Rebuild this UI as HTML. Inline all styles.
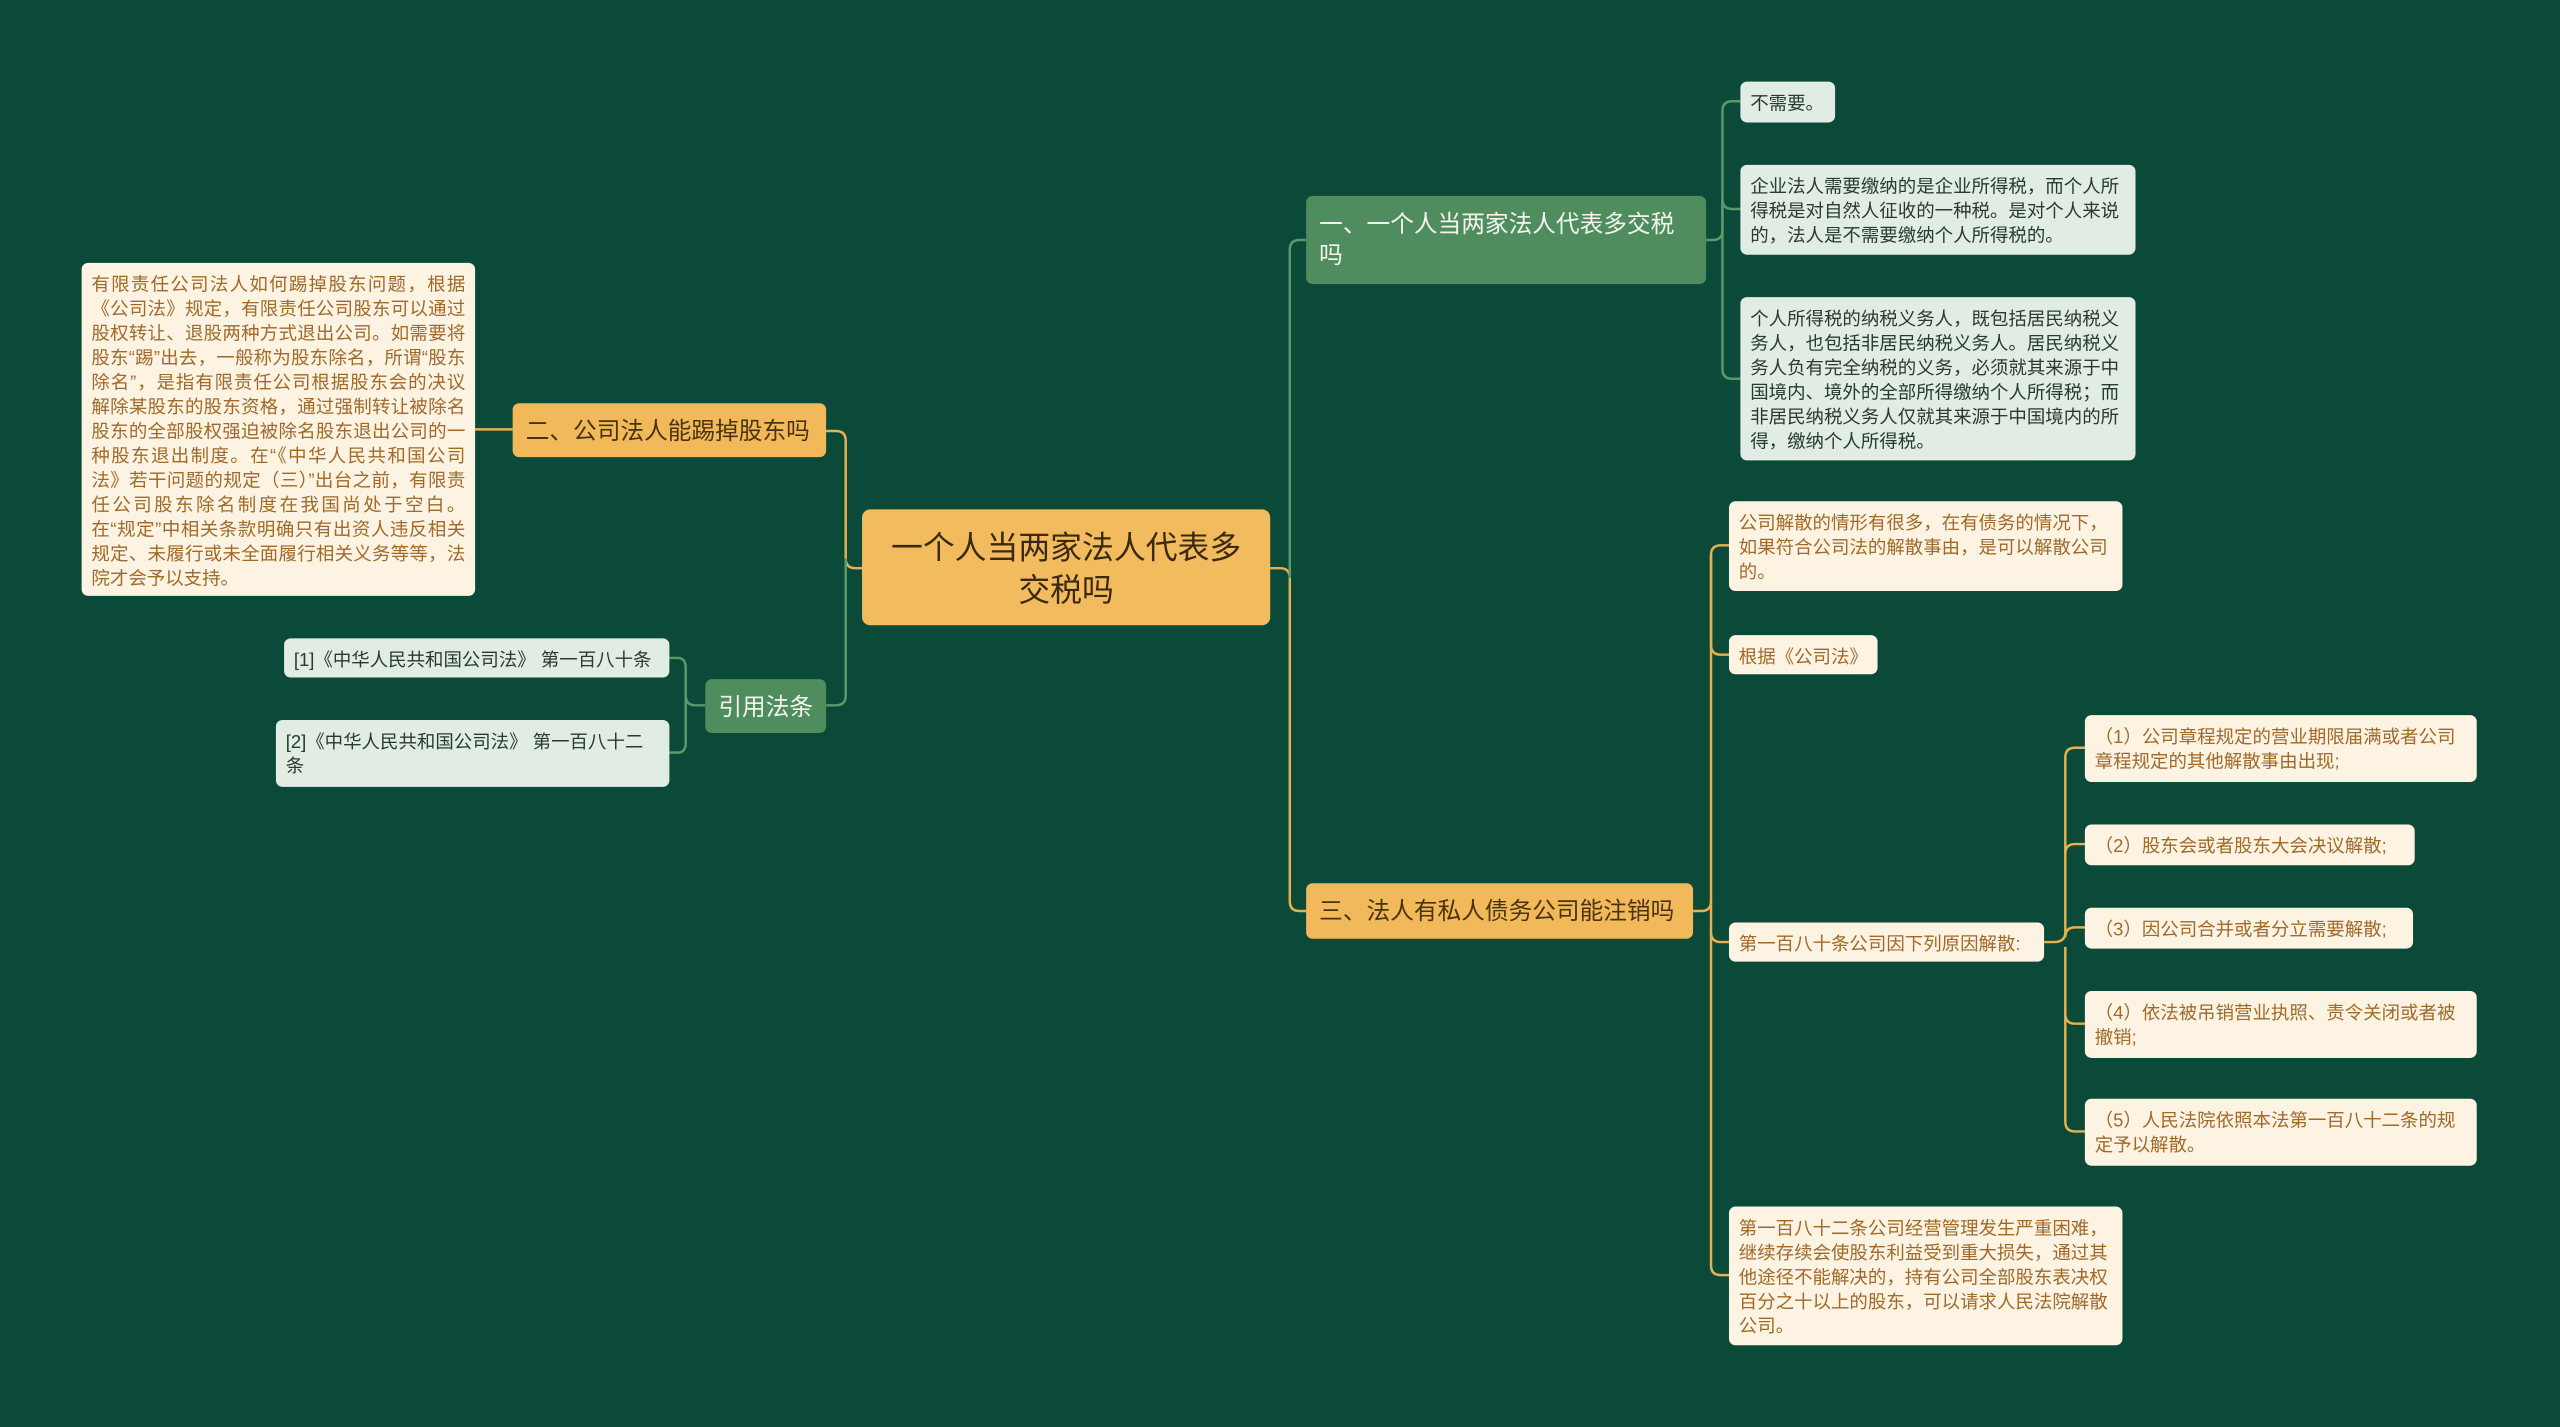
<!DOCTYPE html>
<html><head><meta charset="utf-8"><style>
html,body{margin:0;padding:0;background:#0b4a38;width:2560px;height:1427px;overflow:hidden}
#w{position:absolute;left:0;top:0;width:1568px;height:874px;transform:scale(1.63265);transform-origin:0 0;font-family:"Liberation Sans","Noto Sans CJK SC",sans-serif}
.n{position:absolute;box-sizing:border-box;border-radius:4px}
.c{background:#f2bb5e;color:#3a2a10;font-size:19.5px;line-height:26px;text-align:center;display:flex;align-items:center;justify-content:center;padding:2px 12px 0;border-radius:5px}
.bg{background:#4f8d5e;color:#f4f4ee;font-size:14.5px;line-height:19px;padding:9px 8px 5px}
.bo{background:#f1b95a;color:#4a3310;font-size:14.5px;line-height:19px;padding:9px 8px 5px}
.lg{background:#e1ece5;color:#2a3a30;font-size:11.3px;line-height:15px;padding:7px 6px 3px}
.lo{background:#fdf3e2;color:#a06a2a;font-size:11.3px;line-height:15px;padding:7px 6px 3px}
svg{position:absolute;left:0;top:0}
</style></head><body><div id="w">
<svg width="1568" height="874" fill="none" stroke-width="1.5">
<g stroke="#e8b04f">
<path d="M778 348 H784 Q790 348 790 354 V552 Q790 558 796 558 H800"/>
<path d="M528 348 H524 Q518 348 518 342 V270 Q518 264 512 264 H506"/>
<path d="M314 263 H291"/>
<path d="M1037 558 H1042 Q1048 558 1048 552 V340 Q1048 334 1054 334 H1059"/>
<path d="M1048 340 V395 Q1048 401 1054 401 H1059"/>
<path d="M1048 552 V571 Q1048 577 1054 577 H1059"/>
<path d="M1048 571 V775 Q1048 781 1054 781 H1059"/>
<path d="M1252 577 H1258 Q1265 577 1265 571 V464 Q1265 458 1271 458 H1277"/>
<path d="M1265 523 Q1265 517 1271 517 H1277"/>
<path d="M1265 574 Q1265 568 1271 568 H1277"/>
<path d="M1265 580 V621 Q1265 627 1271 627 H1277"/>
<path d="M1265 621 V687 Q1265 693 1271 693 H1277"/>
</g>
<g stroke="#5a9a6a">
<path d="M790 354 V153 Q790 147 796 147 H800"/>
<path d="M518 342 V426 Q518 432 512 432 H506"/>
<path d="M1045 147 H1049 Q1055 147 1055 141 V68 Q1055 62 1061 62 H1066"/>
<path d="M1055 141 V122 Q1055 128 1061 128 H1066"/>
<path d="M1055 141 V226 Q1055 232 1061 232 H1066"/>
<path d="M432 432 H426 Q420 432 420 426 V409 Q420 403 415 403 H410"/>
<path d="M420 426 V455 Q420 461 415 461 H410"/>
</g>
</svg>
<div class="n c" style="left:528px;top:312px;width:250px;height:71px">一个人当两家法人代表多交税吗</div>
<div class="n bg" style="left:800px;top:120px;width:245px;height:54px">一、一个人当两家法人代表多交税吗</div>
<div class="n bo" style="left:800px;top:541px;width:237px;height:34px;white-space:nowrap">三、法人有私人债务公司能注销吗</div>
<div class="n bo" style="left:314px;top:247px;width:192px;height:33px;white-space:nowrap">二、公司法人能踢掉股东吗</div>
<div class="n bg" style="left:432px;top:416px;width:74px;height:33px;white-space:nowrap">引用法条</div>
<div class="n lo" style="left:50px;top:161px;width:241px;height:204px;text-align:justify">有限责任公司法人如何踢掉股东问题，根据《公司法》规定，有限责任公司股东可以通过股权转让、退股两种方式退出公司。如需要将股东“踢”出去，一般称为股东除名，所谓“股东除名”，是指有限责任公司根据股东会的决议解除某股东的股东资格，通过强制转让被除名股东的全部股权强迫被除名股东退出公司的一种股东退出制度。在“《中华人民共和国公司法》若干问题的规定（三）”出台之前，有限责任公司股东除名制度在我国尚处于空白。在“规定”中相关条款明确只有出资人违反相关规定、未履行或未全面履行相关义务等等，法院才会予以支持。</div>
<div class="n lg" style="left:174px;top:391px;width:236px;height:24px;white-space:nowrap">[1]《中华人民共和国公司法》 第一百八十条</div>
<div class="n lg" style="left:169px;top:441px;width:241px;height:41px">[2]《中华人民共和国公司法》 第一百八十二条</div>
<div class="n lg" style="left:1066px;top:50px;width:58px;height:25px">不需要。</div>
<div class="n lg" style="left:1066px;top:101px;width:242px;height:55px">企业法人需要缴纳的是企业所得税，而个人所得税是对自然人征收的一种税。是对个人来说的，法人是不需要缴纳个人所得税的。</div>
<div class="n lg" style="left:1066px;top:182px;width:242px;height:100px">个人所得税的纳税义务人，既包括居民纳税义务人，也包括非居民纳税义务人。居民纳税义务人负有完全纳税的义务，必须就其来源于中国境内、境外的全部所得缴纳个人所得税；而非居民纳税义务人仅就其来源于中国境内的所得，缴纳个人所得税。</div>
<div class="n lo" style="left:1059px;top:307px;width:241px;height:55px">公司解散的情形有很多，在有债务的情况下，如果符合公司法的解散事由，是可以解散公司的。</div>
<div class="n lo" style="left:1059px;top:389px;width:91px;height:24px;white-space:nowrap">根据《公司法》</div>
<div class="n lo" style="left:1059px;top:565px;width:193px;height:24px;white-space:nowrap">第一百八十条公司因下列原因解散:</div>
<div class="n lo" style="left:1059px;top:739px;width:241px;height:85px">第一百八十二条公司经营管理发生严重困难，继续存续会使股东利益受到重大损失，通过其他途径不能解决的，持有公司全部股东表决权百分之十以上的股东，可以请求人民法院解散公司。</div>
<div class="n lo" style="left:1277px;top:438px;width:240px;height:41px">（1）公司章程规定的营业期限届满或者公司章程规定的其他解散事由出现;</div>
<div class="n lo" style="left:1277px;top:505px;width:202px;height:25px;white-space:nowrap">（2）股东会或者股东大会决议解散;</div>
<div class="n lo" style="left:1277px;top:556px;width:201px;height:25px;white-space:nowrap">（3）因公司合并或者分立需要解散;</div>
<div class="n lo" style="left:1277px;top:607px;width:240px;height:41px">（4）依法被吊销营业执照、责令关闭或者被撤销;</div>
<div class="n lo" style="left:1277px;top:673px;width:240px;height:41px">（5）人民法院依照本法第一百八十二条的规定予以解散。</div>
</div></body></html>
